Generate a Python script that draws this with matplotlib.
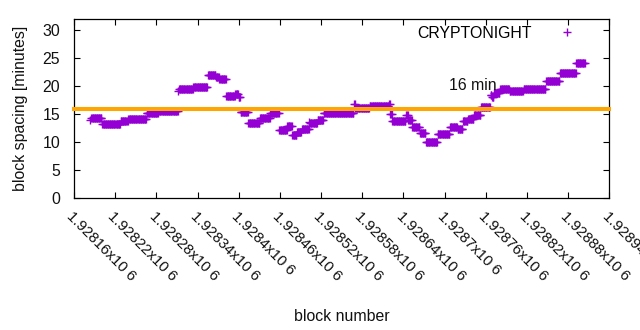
import numpy as np
import matplotlib
matplotlib.use("Agg")
import matplotlib.pyplot as plt
from matplotlib.lines import Line2D
from matplotlib.transforms import ScaledTranslation

# ---- data (run-length encoded block spacing) ----
first_block = 1928184
run_values = [14.0, 14.3, 13.2, 13.8, 14.1, 15.3, 15.6, 19.2, 19.5, 19.8,
              22.0, 21.7, 21.3, 18.3, 18.6, 18.0, 15.4, 13.4, 14.3, 15.2,
              12.2, 12.9, 11.25, 11.8, 12.3, 13.6, 13.4, 14.0, 15.2, 16.8,
              16.1, 16.4, 16.8, 15.0, 13.7, 14.9, 14.0, 12.8, 11.6, 10.1,
              11.4, 12.7, 12.3, 13.7, 14.1, 14.9, 16.25, 18.5, 18.0, 18.8,
              19.5, 19.2, 19.6, 21.0, 22.3, 24.2]
run_lengths = [1, 16, 27, 11, 27, 17, 29, 1, 21, 21,
               12, 5, 10, 13, 5, 3, 11, 17, 15, 13,
               12, 7, 7, 7, 11, 1, 11, 9, 44, 2,
               21, 28, 2, 3, 20, 3, 6, 11, 9, 17,
               18, 11, 8, 7, 9, 10, 14, 2, 3, 9,
               14, 20, 33, 20, 24, 13]
target_minutes = 16
series_label = "CRYPTONIGHT"
x_ticks = [1928160 + 60 * i for i in range(14)]
x_tick_labels = ["1.92816x10 6", "1.92822x10 6", "1.92828x10 6", "1.92834x10 6",
                 "1.9284x10 6", "1.92846x10 6", "1.92852x10 6", "1.92858x10 6",
                 "1.92864x10 6", "1.9287x10 6", "1.92876x10 6", "1.92882x10 6",
                 "1.92888x10 6", "1.92894x10 6"]
y_ticks = [0, 5, 10, 15, 20, 25, 30]

spacing = np.repeat(run_values, run_lengths)
blocks = first_block + np.arange(len(spacing))

plt.rcParams['font.family'] = ['Liberation Sans', 'DejaVu Sans']
FS = 11.4
FS_X = 10.8
purple = '#9400D3'
orange = '#FFA500'

fig = plt.figure(figsize=(6.4, 3.3), dpi=100)
ax = fig.add_axes([74 / 640, 1 - 198 / 330, (609.3 - 74) / 640, (198 - 19.3) / 330])

ax.set_xlim(1928160, 1928940)
ax.set_ylim(0, 32)

ax.plot(blocks, spacing, linestyle='none', marker='+', color=purple,
        markersize=5.4, markeredgewidth=1.0, zorder=3)

ax.plot([1928160, 1928940], [target_minutes, target_minutes], color=orange,
        lw=2.9, solid_capstyle='projecting', clip_on=False, zorder=4)
ax.text(1928706, 20.1, "16 min", fontsize=FS, ha='left', va='center', color='#111111')

ax.set_xticks(x_ticks)
ax.set_xticklabels(x_tick_labels, rotation=-45, ha='left', va='top',
                   rotation_mode='anchor', fontsize=FS_X)
shift = ScaledTranslation(4 / 72, 0, fig.dpi_scale_trans)
for lbl in ax.get_xticklabels():
    lbl.set_transform(lbl.get_transform() + shift)
ax.set_yticks(y_ticks)
ax.set_yticklabels([str(v) for v in y_ticks], fontsize=FS)
ax.tick_params(direction='in', length=4.5, width=0.8, top=True, right=True,
               colors='black', labelcolor='#111111')
ax.tick_params(axis='x', pad=8)
ax.tick_params(axis='y', pad=10)
for s in ax.spines.values():
    s.set_linewidth(0.9)

ax.set_xlabel("block number", fontsize=FS, color='#111111')
ax.xaxis.set_label_coords(0.5, -0.62)
ax.set_ylabel("block spacing [minutes]", fontsize=FS, color='#111111')
ax.yaxis.set_label_coords(-0.086, 0.5)

handle = Line2D([], [], linestyle='none', marker='+', color=purple,
                markersize=5.4, markeredgewidth=1.0)
leg = ax.legend([handle], [series_label], loc='upper right', frameon=False,
                markerfirst=False, fontsize=FS, handlelength=4.17,
                handletextpad=0.1, borderaxespad=0, borderpad=0,
                bbox_to_anchor=(0.982, 0.965))

fig.savefig("out.png", dpi=100)
